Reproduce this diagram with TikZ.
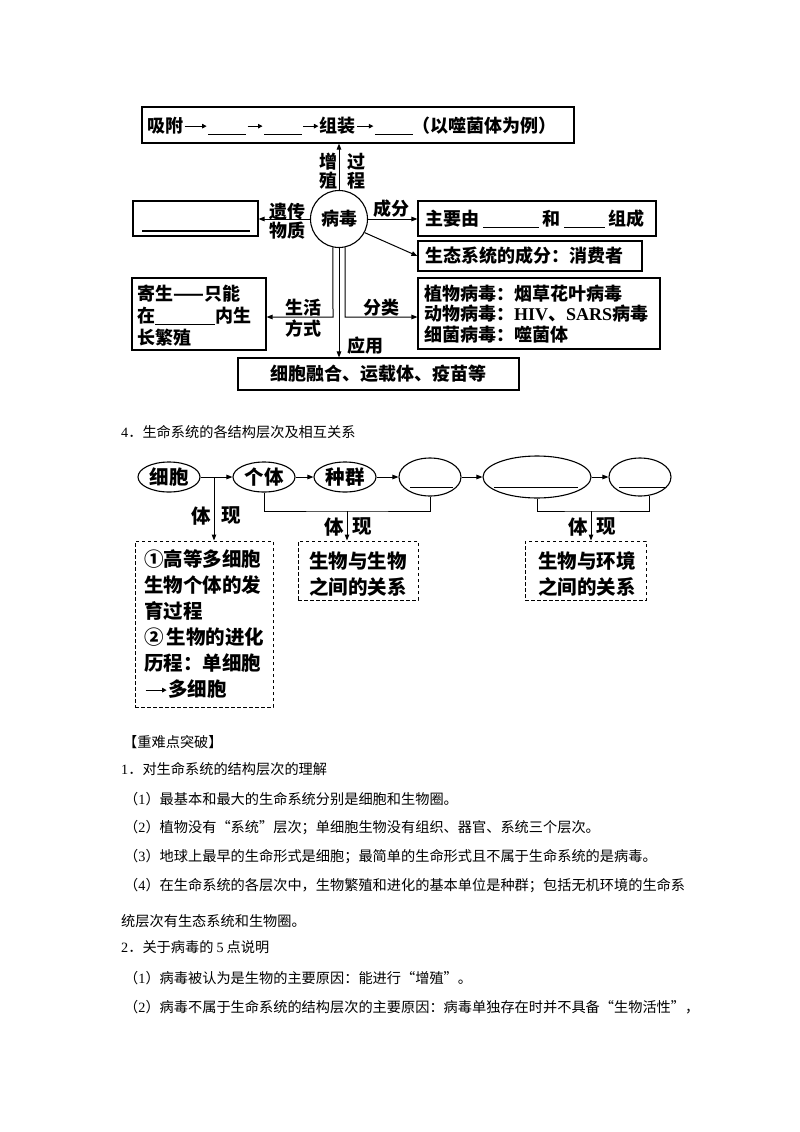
\documentclass[tikz,border=0pt]{standalone}
\usepackage{fontspec}
\setmainfont{Noto Sans CJK SC}
\newfontfamily\tmsfont{Liberation Serif}
\usetikzlibrary{arrows.meta}
\usetikzlibrary{positioning}
\usetikzlibrary{shapes.geometric}

\newcommand{\gap}[1]{\rule[-2.5pt]{#1pt}{0.9pt}}
\newcommand{\lnarrow}[1]{\hspace{1pt}\tikz[baseline=-0.6ex]\draw[line width=0.9pt,-{Triangle[length=4.5pt,width=4.5pt]}] (0pt,0pt) -- (#1pt,0pt);\hspace{1pt}}

\tikzset{
  solidbox/.style={draw=black,line width=1.1pt,inner sep=0pt},
  dashbox/.style={draw=black,line width=1pt,dash pattern=on 3.5pt off 2.5pt,inner sep=0pt},
  level/.style={draw=black,line width=1.1pt,ellipse,inner sep=0pt,minimum width=62pt,minimum height=30pt,font=\fontsize{19.5}{22}\selectfont\bfseries},
  link/.style={black,line width=1pt,-{Triangle[length=6pt,width=4.5pt]}},
  plain/.style={black,line width=1pt},
  dtext/.style={inner sep=0pt,text=black,font=\fontsize{18}{19}\selectfont\bfseries},
  ltext/.style={inner sep=0pt,text=black,font=\fontsize{19.5}{26}\selectfont\bfseries},
  btext/.style={inner sep=0pt,text=black,anchor=west,font=\fontsize{14.2}{17}\selectfont},
}

\begin{document}
\begin{tikzpicture}[x=1pt,y=-1pt]
\useasboundingbox (0,0) rectangle (800,1132);
\fill[white] (0,0) rectangle (800,1132);

\node[solidbox,minimum width=432pt,minimum height=36pt] (cycle) at (358,125) {};
\node[dtext,anchor=west] at (147,125.5) {吸附\lnarrow{22}\gap{38}\lnarrow{15}\gap{38}\lnarrow{15}组装\lnarrow{16}\gap{38}（以噬菌体为例）};
\node[solidbox,dtext,circle,minimum size=57pt] (virus) at (339,219) {病毒};

\node[solidbox,minimum width=125pt,minimum height=35pt] (genes) at (195.5,218.5) {};
\draw[line width=2pt] (142,231) -- (250,231);
\node[solidbox,minimum width=238pt,minimum height=35pt] (parts) at (537,218.5) {};
\node[dtext,anchor=west] at (425,219) {主要由\hspace{4pt}\gap{56}\hspace{3pt}和\hspace{4pt}\gap{41}\hspace{3pt}组成};
\node[solidbox,minimum width=224pt,minimum height=30pt] (eco) at (530,256) {};
\node[dtext,anchor=west] at (425,256) {生态系统的成分：消费者};
\node[solidbox,minimum width=242pt,minimum height=71pt] (kinds) at (539,313.5) {};
\node[dtext,anchor=west,align=left] at (424,314) {植物病毒：烟草花叶病毒\\[1.5pt]动物病毒：{\tmsfont HIV}、{\tmsfont SARS}病毒\\[1.5pt]细菌病毒：噬菌体};
\node[solidbox,minimum width=134pt,minimum height=72pt] (host) at (199,314) {};
\node[dtext,anchor=west,align=left] at (137,316) {寄生——只能\\[3pt]在\gap{60}内生\\[3pt]长繁殖};
\node[solidbox,dtext,minimum width=281pt,minimum height=32pt] (usage) at (378.5,374) {细胞融合、运载体、疫苗等};

\draw[link] (virus.north) -- (virus.north |- cycle.south);
\draw[link] (virus.west) -- (virus.west -| genes.east);
\draw[link] (virus.east) -- (virus.east -| parts.west);
\draw[link] (virus.-28) -- (eco.west);
\coordinate (lifeturn) at (333,317);
\coordinate (kindturn) at (345,317);
\draw[link] (virus.258) -- (lifeturn) -- (lifeturn -| host.east);
\draw[link] (virus.282) -- (kindturn) -- (kindturn -| kinds.west);
\draw[link] (virus.south) -- (virus.south |- usage.north);

\node[dtext,align=center] at (328,171) {增\\殖};
\node[dtext,align=center] at (356,171) {过\\程};
\node[dtext,align=center] at (287,221) {遗传\\物质};
\node[dtext] at (391,209) {成分};
\node[dtext,align=center] at (303,318) {生活\\[2pt]方式};
\node[dtext] at (381,308) {分类};
\node[dtext] at (365,346) {应用};

\node[btext] at (121,432) {{\tmsfont 4}．生命系统的各结构层次及相互关系};

\node[level] (cell) at (169,477) {细胞};
\node[level] (indiv) at (264,477) {个体};
\node[level] (pop) at (345,477) {种群};
\node[level,minimum height=38pt] (comm) at (430,477) {};
\node[level,minimum width=108pt,minimum height=42pt] (ecosys) at (537,477) {};
\node[level,minimum height=38pt] (bios) at (640,477) {};
\draw[plain] (410,487) -- (453,487);
\draw[plain] (494,487) -- (578,487);
\draw[plain] (619,487) -- (666,487);
\draw[link] (cell) -- (indiv);
\draw[link] (indiv) -- (pop);
\draw[link] (pop) -- (comm);
\draw[link] (comm) -- (ecosys);
\draw[link] (ecosys) -- (bios);

\node[dashbox,minimum width=138pt,minimum height=166pt] (devbox) at (204,624) {};
\node[ltext,anchor=west,align=left] at (144,624) {①高等多细胞\\生物个体的发\\育过程\\②\hspace{3pt}生物的进化\\历程：单细胞\\\lnarrow{21}多细胞};
\node[dashbox,minimum width=120pt,minimum height=59pt] (bbox) at (358,570.5) {};
\node[ltext,align=center] at (358,574) {生物与生物\\之间的关系};
\node[dashbox,minimum width=121pt,minimum height=59pt] (ebox) at (585.5,570.5) {};
\node[ltext,align=center] at (587,574) {生物与环境\\之间的关系};

\coordinate (cellfork) at (214,477);
\draw[link] (cellfork) -- (cellfork |- devbox.north);
\coordinate (midfork) at (347,511);
\draw[plain] (indiv.south) |- (midfork) -| (comm.south);
\draw[link] (midfork) -- (midfork |- bbox.north);
\coordinate (rightfork) at (591,511);
\draw[plain] (ecosys.south) |- (rightfork) -| (bios.-62);
\draw[link] (rightfork) -- (rightfork |- ebox.north);

\node[ltext] at (201,516) {体};
\node[ltext] at (231,516) {现};
\node[ltext] at (334,527) {体};
\node[ltext] at (362,527) {现};
\node[ltext] at (578,527) {体};
\node[ltext] at (606,527) {现};

\node[btext] at (123,742) {【重难点突破】};
\node[btext] at (121,769) {{\tmsfont 1}．对生命系统的结构层次的理解};
\node[btext] at (124,799) {（{\tmsfont 1}）最基本和最大的生命系统分别是细胞和生物圈。};
\node[btext] at (124,828) {（{\tmsfont 2}）植物没有“系统”层次；单细胞生物没有组织、器官、系统三个层次。};
\node[btext] at (124,857) {（{\tmsfont 3}）地球上最早的生命形式是细胞；最简单的生命形式且不属于生命系统的是病毒。};
\node[btext] at (124,886) {（{\tmsfont 4}）在生命系统的各层次中，生物繁殖和进化的基本单位是种群；包括无机环境的生命系};
\node[btext] at (121,921) {统层次有生态系统和生物圈。};
\node[btext] at (121,947) {{\tmsfont 2}．关于病毒的\hspace{3pt}{\tmsfont 5}\hspace{3pt}点说明};
\node[btext] at (124,978) {（{\tmsfont 1}）病毒被认为是生物的主要原因：能进行“增殖”。};
\node[btext] at (124,1007) {（{\tmsfont 2}）病毒不属于生命系统的结构层次的主要原因：病毒单独存在时并不具备“生物活性”，};
\end{tikzpicture}
\end{document}
